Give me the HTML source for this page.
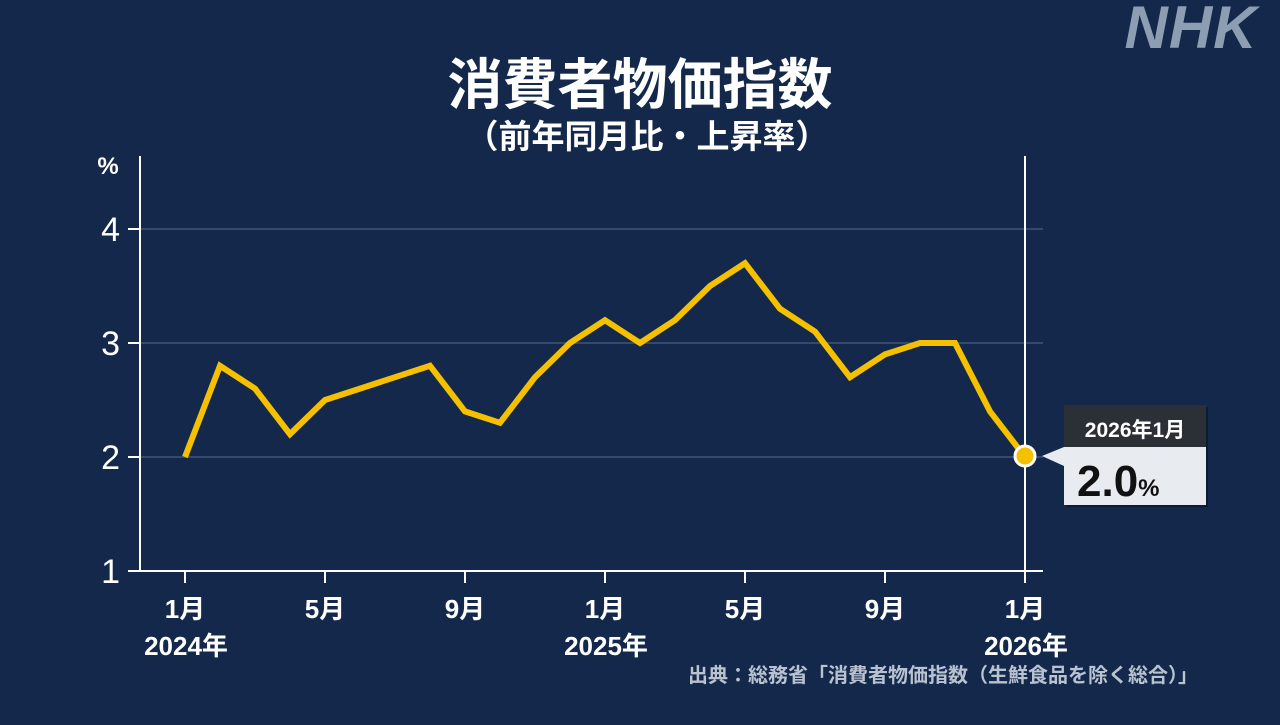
<!DOCTYPE html><html><head><meta charset="utf-8"><style>
body{margin:0;width:1280px;height:720px;background:#13284a;overflow:hidden}
text{font-family:"Liberation Sans","Noto Sans CJK JP",sans-serif}
</style></head><body>
<svg width="1280" height="720" viewBox="0 0 1280 720">
<rect width="1280" height="720" fill="#13284a"/>
<text x="1191" y="48" font-size="60" font-weight="bold" font-style="italic" fill="#8d9db2" text-anchor="middle" letter-spacing="1">NHK</text>
<text x="640" y="104" font-size="55" font-weight="bold" fill="#fff" text-anchor="middle">消費者物価指数</text>
<text x="647" y="148" font-size="33" font-weight="bold" fill="#fff" text-anchor="middle">（前年同月比・上昇率）</text>
<text x="108" y="174" font-size="24" font-weight="bold" fill="#fff" text-anchor="middle">%</text>
<g stroke="#34496b" stroke-width="2">
<line x1="140" y1="229" x2="1043" y2="229"/><line x1="140" y1="343" x2="1043" y2="343"/><line x1="140" y1="457" x2="1043" y2="457"/></g>
<g stroke="#fff" stroke-width="2">
<line x1="140" y1="156" x2="140" y2="572"/><line x1="140" y1="571" x2="1043" y2="571"/>
<line x1="140" y1="229" x2="128" y2="229"/><line x1="140" y1="343" x2="128" y2="343"/><line x1="140" y1="457" x2="128" y2="457"/><line x1="140" y1="571" x2="128" y2="571"/>
<line x1="185" y1="571" x2="185" y2="583"/><line x1="325" y1="571" x2="325" y2="583"/><line x1="465" y1="571" x2="465" y2="583"/><line x1="605" y1="571" x2="605" y2="583"/><line x1="745" y1="571" x2="745" y2="583"/><line x1="885" y1="571" x2="885" y2="583"/>
<line x1="1025" y1="156" x2="1025" y2="583"/></g>
<g font-size="34" fill="#fff" text-anchor="end">
<text x="120" y="241">4</text><text x="120" y="355">3</text><text x="120" y="469">2</text><text x="120" y="583">1</text></g>
<g font-size="26" font-weight="bold" fill="#fff" text-anchor="middle">
<text x="185" y="618">1月</text><text x="186" y="655">2024年</text>
<text x="325" y="618">5月</text><text x="465" y="618">9月</text>
<text x="605" y="618">1月</text><text x="606" y="655">2025年</text>
<text x="745" y="618">5月</text><text x="885" y="618">9月</text>
<text x="1025" y="618">1月</text><text x="1026" y="655">2026年</text></g>
<text x="1198" y="682" font-size="20" font-weight="bold" fill="#b8c2d0" text-anchor="end">出典：総務省「消費者物価指数（生鮮食品を除く総合）」</text>
<polyline fill="none" stroke="#f5c000" stroke-width="6" stroke-linejoin="miter" points="185,457 220,365.8 255,388.6 290,434.2 325,400 360,388.6 395,377.2 430,365.8 465,411.4 500,422.8 535,377.2 570,343 605,320.2 640,343 675,320.2 710,286 745,263.2 780,308.8 815,331.6 850,377.2 885,354.4 920,343 955,343 990,411.4 1025,457"/>
<circle cx="1025" cy="456" r="10" fill="#f5c000" stroke="#fff" stroke-width="3"/>
<rect x="1066" y="407" width="142" height="100" fill="#000" opacity="0.3"/>
<rect x="1064" y="405" width="142" height="42" fill="#2b2f36"/>
<rect x="1064" y="447" width="142" height="58" fill="#e8ebef"/>
<polygon points="1042,456 1064,447 1064,466" fill="#e8ebef"/>
<text x="1135" y="437" font-size="21" font-weight="bold" fill="#fff" text-anchor="middle">2026年1月</text>
<text x="1077" y="496" font-size="44" font-weight="bold" fill="#111">2.0<tspan font-size="24">%</tspan></text>
</svg></body></html>
